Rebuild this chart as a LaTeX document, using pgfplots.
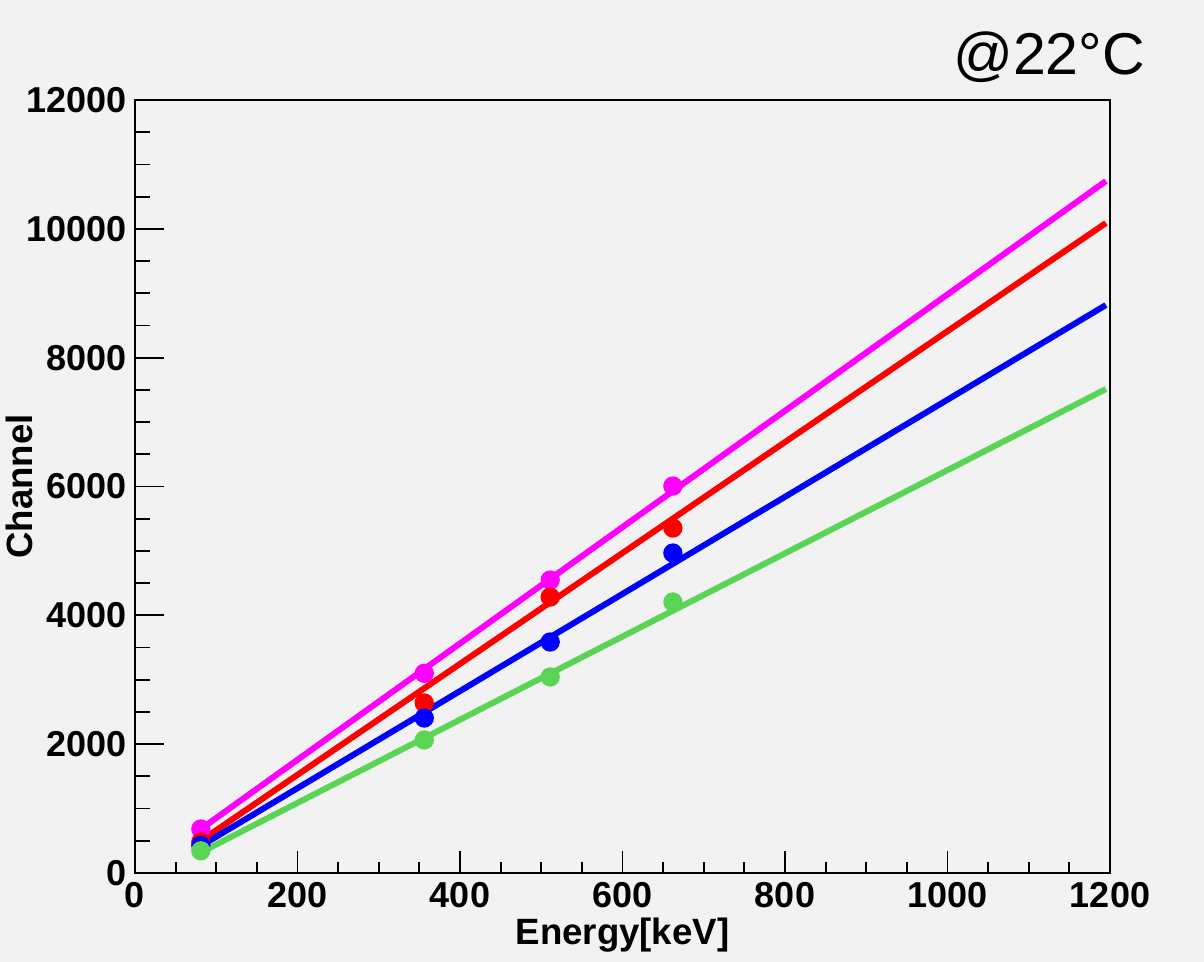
\documentclass[border=0pt]{standalone}
\usepackage{fontspec}
\setmainfont{Liberation Sans}
\usepackage{pgfplots}
\pgfplotsset{compat=1.18}
\usetikzlibrary{backgrounds}
\definecolor{bggray}{HTML}{F2F2F2}
\definecolor{rmag}{HTML}{FF00FF}
\definecolor{rred}{HTML}{FF0000}
\definecolor{rblue}{HTML}{0000FF}
\definecolor{rgreen}{HTML}{59D454}

\begin{document}
\begin{tikzpicture}
  \pgfplotsset{
    rootframe/.style={
      scale only axis, width=487.5pt, height=386.5pt,
      at={(0,0)}, anchor=south west,
      xmin=0, xmax=1200, ymin=0, ymax=12000,
      tick align=inside, tick pos=left,
      axis line style={line width=1pt},
      every tick/.style={black, line width=0.9pt},
      ticklabel style={font=\fontsize{18}{20}\selectfont\bfseries},
      /pgf/number format/assume math mode=true,
      /pgf/number format/1000 sep={},
      scaled ticks=false,
    },
  }
  % x ticks, data
  \begin{axis}[rootframe,
      xtick={0,200,...,1200}, minor x tick num=3,
      ytick=\empty,
      major tick length=11pt, minor tick length=5.5pt,
      xticklabel style={yshift=-1pt},
      xlabel={Energy[keV]},
      every axis x label/.style={at={(axis description cs:0.5,-0.080)}, anchor=center,
        font=\fontsize{18.3}{20}\selectfont\bfseries},
      every axis plot/.append style={line width=3pt},
    ]
    % magenta
    \addplot[only marks, mark=*, mark size=3.3pt, rmag] coordinates {(81,683)(356,3100)(511,4548)(662,6007)};
    \addplot[rmag, no marks] coordinates {(81,683)(1195,10742)};
    % red
    \addplot[only marks, mark=*, mark size=3.3pt, rred] coordinates {(81,481)(356,2639)(511,4284)(662,5355)};
    \addplot[rred, no marks] coordinates {(81,500)(1195,10090)};
    % blue
    \addplot[only marks, mark=*, mark size=3.3pt, rblue] coordinates {(81,430)(356,2406)(511,3586)(662,4967)};
    \addplot[rblue, no marks] coordinates {(81,420)(1195,8817)};
    % green
    \addplot[only marks, mark=*, mark size=3.3pt, rgreen] coordinates {(81,345)(356,2065)(511,3043)(662,4207)};
    \addplot[rgreen, no marks] coordinates {(81,320)(1195,7513)};
  \end{axis}
  % y ticks (longer)
  \begin{axis}[rootframe,
      axis line style={draw=none},
      xtick=\empty,
      ytick={0,2000,...,12000}, minor y tick num=3,
      major tick length=14.5pt, minor tick length=7.5pt,
      yticklabel style={xshift=-0.5pt},
      ylabel={Channel},
      every axis y label/.style={at={(axis description cs:-0.119,0.5)}, anchor=center, rotate=90,
        font=\fontsize{18.3}{20}\selectfont\bfseries},
    ]
  \end{axis}
  \node[anchor=base, font=\fontsize{29.5}{32}\selectfont] at (457pt,399pt) {@22°C};
  \begin{scope}[on background layer]
    \fill[bggray] (-67.5pt,-44.5pt) rectangle (534.5pt,436.5pt);
  \end{scope}
  \pgfresetboundingbox
  \path[use as bounding box] (-67.5pt,-44.5pt) rectangle (534.5pt,436.5pt);
\end{tikzpicture}
\end{document}
